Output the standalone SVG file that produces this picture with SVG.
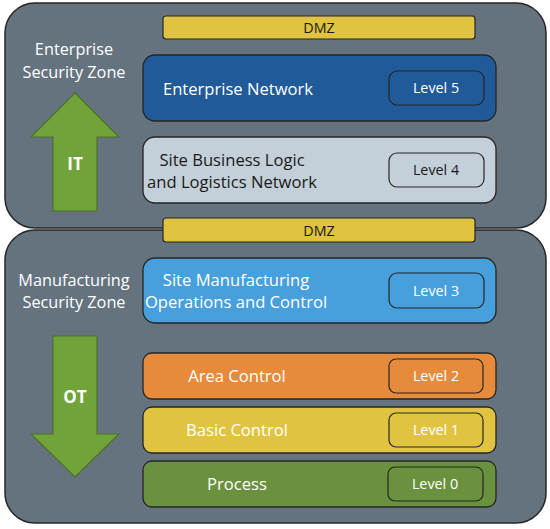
<svg xmlns="http://www.w3.org/2000/svg" width="550" height="529" viewBox="0 0 550 529">
<style>
.zone{fill:#65737f;stroke:#262626;stroke-width:1.5}
.box{stroke:#262626;stroke-width:1.3}
.lvl{stroke:#262626;stroke-width:1.2}
.dmz{fill:#e0c341;stroke:#262626;stroke-width:1.2}
.arrow{fill:#70a43a;stroke:#4c7228;stroke-width:1.2}
text{font-family:"Open Sans","Noto Sans","Liberation Sans",sans-serif;text-anchor:middle}
.w{fill:#ffffff}
.d{fill:#1a1a1a}
.zt{font-size:16.3px}
.bt{font-size:16.6px}
.lt{font-size:14.3px}
.ab{font-size:17px;font-weight:bold}
</style>
<g id="enterprise-zone">
<rect class="zone" x="5" y="3" width="541" height="225" rx="30"/>
<text class="w zt" x="74" y="55">Enterprise</text>
<text class="w zt" x="74" y="78">Security Zone</text>
</g>
<g id="manufacturing-zone">
<rect class="zone" x="5" y="230" width="541" height="293" rx="30"/>
<text class="w zt" x="74" y="286">Manufacturing</text>
<text class="w zt" x="74" y="308">Security Zone</text>
</g>
<g id="it-arrow">
<polygon class="arrow" points="75,93 119,137 97,137 97,211 53,211 53,137 31,137"/>
<text class="w ab" x="75" y="170">IT</text>
</g>
<g id="ot-arrow">
<polygon class="arrow" points="53,336 97,336 97,434 119,434 75,477 31,434 53,434"/>
<text class="w ab" x="75" y="403">OT</text>
</g>
<g id="dmz-top">
<rect class="dmz" x="163" y="16" width="312" height="23" rx="3"/>
<text class="d lt" x="319" y="33">DMZ</text>
</g>
<g id="enterprise-network">
<rect class="box" x="143" y="55" width="353" height="66" rx="12" fill="#215a98"/>
<text class="w bt" x="238" y="95">Enterprise Network</text>
<rect class="lvl" x="389" y="71" width="95" height="34" rx="8" fill="#215a98"/>
<text class="w lt" x="436" y="93">Level 5</text>
</g>
<g id="site-business">
<rect class="box" x="143" y="137" width="353" height="66" rx="12" fill="#c3cfd9"/>
<text class="d bt" x="232" y="166">Site Business Logic</text>
<text class="d bt" x="232" y="188">and Logistics Network</text>
<rect class="lvl" x="389" y="153" width="95" height="34" rx="8" fill="#c3cfd9"/>
<text class="d lt" x="436" y="175">Level 4</text>
</g>
<g id="dmz-bottom">
<rect class="dmz" x="163" y="218" width="312" height="24" rx="3"/>
<text class="d lt" x="319" y="236">DMZ</text>
</g>
<g id="site-manufacturing">
<rect class="box" x="143" y="258" width="353" height="65" rx="12" fill="#479fdc"/>
<text class="w bt" x="236" y="286">Site Manufacturing</text>
<text class="w bt" x="236" y="308">Operations and Control</text>
<rect class="lvl" x="389" y="273" width="95" height="35" rx="8" fill="#479fdc"/>
<text class="w lt" x="436" y="296">Level 3</text>
</g>
<g id="area-control">
<rect class="box" x="143" y="353" width="353" height="46" rx="9" fill="#e68a3c"/>
<text class="w bt" x="237" y="382">Area Control</text>
<rect class="lvl" x="389" y="359" width="94" height="34" rx="7" fill="#e68a3c"/>
<text class="w lt" x="436" y="381">Level 2</text>
</g>
<g id="basic-control">
<rect class="box" x="143" y="407" width="353" height="46" rx="9" fill="#e0c441"/>
<text class="w bt" x="237" y="436">Basic Control</text>
<rect class="lvl" x="389" y="413" width="94" height="34" rx="7" fill="#e0c441"/>
<text class="w lt" x="436" y="435">Level 1</text>
</g>
<g id="process">
<rect class="box" x="143" y="461" width="353" height="46" rx="9" fill="#6a913e"/>
<text class="w bt" x="237" y="490">Process</text>
<rect class="lvl" x="388" y="467" width="95" height="34" rx="7" fill="#6a913e"/>
<text class="w lt" x="435" y="489">Level 0</text>
</g>
<g id="connectors"/>
</svg>
